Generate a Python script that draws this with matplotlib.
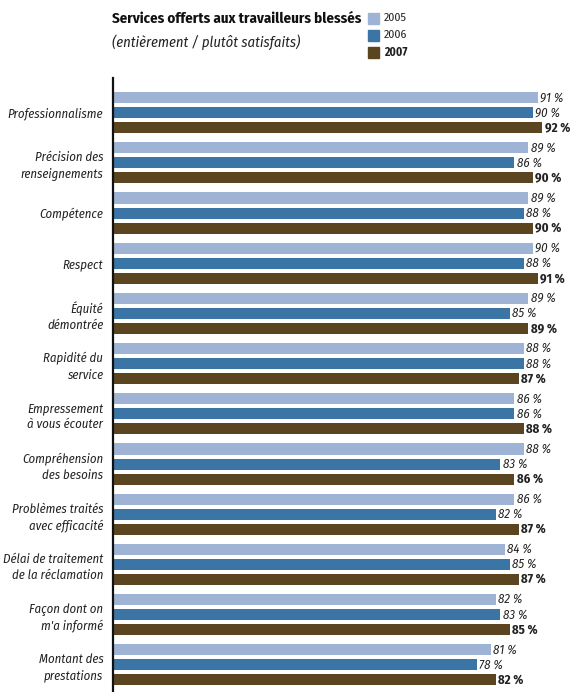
import matplotlib
matplotlib.use('Agg')
from matplotlib import pyplot as plt
from matplotlib.patches import Rectangle
import numpy as np

plt.rcParams['font.family'] = ['Fira Sans Condensed', 'DejaVu Sans']

categories = ['Professionnalisme', 'Précision des\nrenseignements', 'Compétence', 'Respect',
              'Équité\ndémontrée', 'Rapidité du\nservice', 'Empressement\nà vous écouter',
              'Compréhension\ndes besoins', 'Problèmes traités\navec efficacité',
              'Délai de traitement\nde la réclamation', "Façon dont on\nm'a informé",
              'Montant des\nprestations']
years = ['2005', '2006', '2007']
v2005 = [91, 89, 89, 90, 89, 88, 86, 88, 86, 84, 82, 81]
v2006 = [90, 86, 88, 88, 85, 88, 86, 83, 82, 85, 83, 78]
v2007 = [92, 90, 90, 91, 89, 87, 88, 86, 87, 87, 85, 82]
colors = ['#9fb4d4', '#3a75a5', '#5a4520']

fig = plt.figure(figsize=(5.73, 6.92), dpi=100)
ax = fig.add_axes([113 / 573, 0, 460 / 573, 614 / 692])

y = np.arange(len(categories))
for i, (vals, c) in enumerate(zip([v2005, v2006, v2007], colors)):
    ax.barh(y + (i - 1) * 0.3, vals, height=0.22, color=c)
    for yy, v in zip(y + (i - 1) * 0.3, vals):
        ax.text(v + 0.5, yy, f'{v} %', va='center', ha='left', fontsize=9.2,
                color='#222222', fontstyle='normal' if i == 2 else 'italic',
                fontweight='bold' if i == 2 else 'normal')

ax.set_xlim(0, 98.6)
ax.set_ylim(11.54, -0.69)
ax.set_yticks(y)
ax.set_yticklabels(categories, fontstyle='italic', fontsize=9.2, color='#222222',
                   linespacing=1.35)
ax.tick_params(axis='y', length=0, pad=7)
ax.set_xticks([])
for s in ['top', 'right', 'bottom']:
    ax.spines[s].set_visible(False)
ax.spines['left'].set_linewidth(1.6)
ax.spines['left'].set_color('#111111')

fig.text(112 / 573, 1 - 19 / 692, 'Services offerts aux travailleurs blessés', fontsize=10.8,
         fontweight='bold', color='#111111', va='center')
fig.text(112 / 573, 1 - 42 / 692, '(entièrement / plutôt satisfaits)', fontsize=10.5,
         fontstyle='italic', color='#222222', va='center')

for i, (yr, c) in enumerate(zip(years, colors)):
    yc = 1 - (18 + i * 17) / 692
    fig.patches.append(Rectangle((368 / 573, yc - 5.5 / 692), 11 / 573, 11 / 692,
                                 transform=fig.transFigure, color=c))
    fig.text(384 / 573, yc, yr, fontsize=8.5, va='center', color='#222222',
             fontweight='bold' if i == 2 else 'normal')

plt.savefig('out.png', dpi=100)
